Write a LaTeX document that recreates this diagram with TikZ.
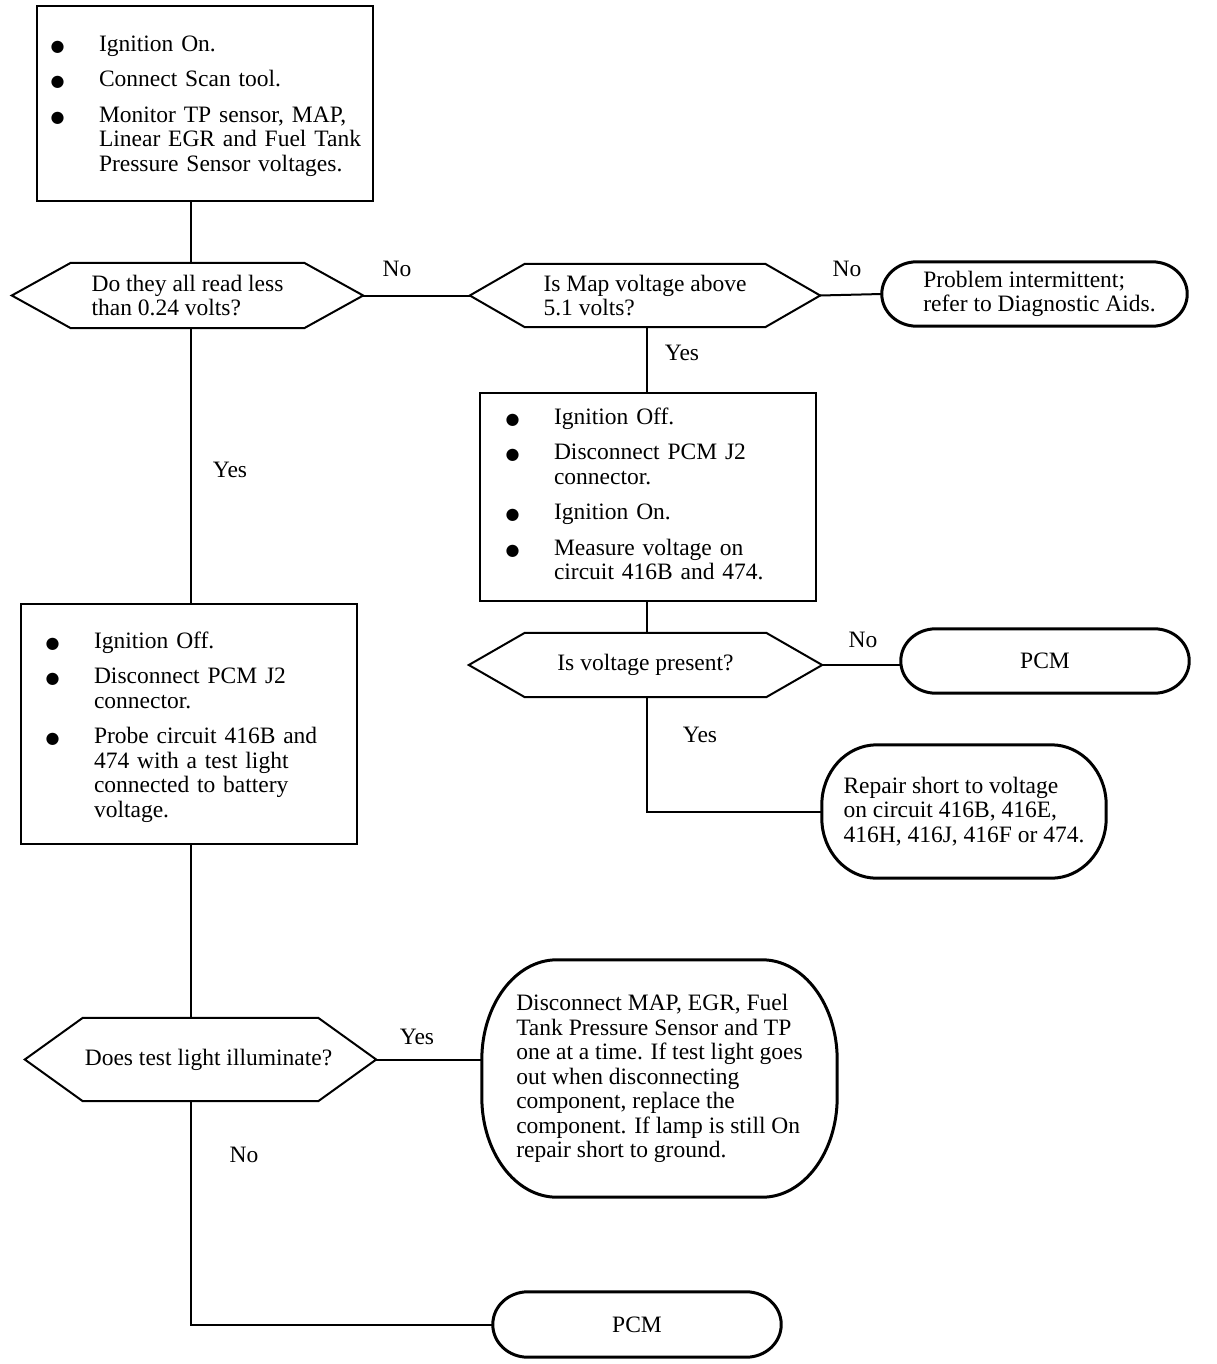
\documentclass[tikz,border=0pt]{standalone}
\usepackage{fontspec}
\setmainfont{Liberation Serif}
\newfontfamily\symfont{DejaVu Sans}
\usetikzlibrary{calc}
\newcommand\bul{\makebox[48.5pt][l]{\symfont\fontsize{16}{16}\selectfont ●}}
\newcommand\hexa[2]{\draw[shapeline] ([xshift=#2pt]#1.north west) -- ([xshift=-#2pt]#1.north east) -- (#1.east) -- ([xshift=-#2pt]#1.south east) -- ([xshift=#2pt]#1.south west) -- (#1.west) -- cycle;}
\newcommand\roundish[3]{\draw[ovalline] ([xshift=#2pt]#1.north west) -- ([xshift=-#2pt]#1.north east)
   arc[start angle=90, end angle=0, x radius=#2pt, y radius=#3pt]
   -- ([yshift=#3pt]#1.south east)
   arc[start angle=0, end angle=-90, x radius=#2pt, y radius=#3pt]
   -- ([xshift=#2pt]#1.south west)
   arc[start angle=270, end angle=180, x radius=#2pt, y radius=#3pt]
   -- ([yshift=-#3pt]#1.north west)
   arc[start angle=180, end angle=90, x radius=#2pt, y radius=#3pt] -- cycle;}
\begin{document}
\begin{tikzpicture}[x=1pt,y=-1pt,
  txt/.style={font=\fontsize{23.5}{24.5}\selectfont, inner sep=0pt},
  box/.style={txt, draw, line width=2pt, anchor=north west, align=left, inner ysep=0pt},
  shapeline/.style={line width=2pt, line join=miter},
  ovalline/.style={line width=3pt},
  conn/.style={line width=2pt},
  lab/.style={txt}]
\useasboundingbox[fill=white] (0,0) rectangle (1216,1364);

% boxes
\node[box, text width=309pt, inner xsep=13.5pt, minimum height=195pt] (b1) at (36,5)
 {\noindent\raisebox{-3pt}[\height][\depth]{\begin{tabular}{@{}l@{}l@{}}
 \bul & Ignition On.\\[11pt]
 \bul & Connect Scan tool.\\[11pt]
 \bul & Monitor TP sensor, MAP,\\
      & Linear EGR and Fuel Tank\\
      & Pressure Sensor voltages.
 \end{tabular}}};
\node[box, text width=285pt, inner xsep=25.5pt, minimum height=208pt] (b2) at (479,392)
 {\noindent\begin{tabular}{@{}l@{}l@{}}
 \bul & Ignition Off.\\[11pt]
 \bul & Disconnect PCM J2\\
      & connector.\\[11pt]
 \bul & Ignition On.\\[11pt]
 \bul & Measure voltage on\\
      & circuit 416B and 474.
 \end{tabular}};
\node[box, text width=287pt, inner xsep=24.5pt, minimum height=240pt] (b3) at (20,603)
 {\noindent\raisebox{-4pt}[\height][\depth]{\begin{tabular}{@{}l@{}l@{}}
 \bul & Ignition Off.\\[11pt]
 \bul & Disconnect PCM J2\\
      & connector.\\[11pt]
 \bul & Probe circuit 416B and\\
      & 474 with a test light\\
      & connected to battery\\
      & voltage.
 \end{tabular}}};

% decisions
\node[txt, minimum width=351pt, minimum height=65pt, align=left] (h1) at (187.5,295.5) {Do they all read less\\than 0.24 volts?};
\hexa{h1}{59}
\node[txt, minimum width=350pt, minimum height=63pt, align=left] (h2) at (645,295.5) {Is Map voltage above\\5.1 volts?};
\hexa{h2}{55}
\node[txt, minimum width=353pt, minimum height=64pt] (h3) at (645.5,665) {Is voltage present?};
\hexa{h3}{56}
\node[txt, minimum width=351pt, minimum height=83pt] (h4) at (200.5,1059.5) {\hspace*{16pt}Does test light illuminate?};
\hexa{h4}{58}

% terminals
\node[txt, minimum width=305pt, minimum height=64pt, align=left] (pi) at (1034.5,294) {\hspace*{10pt}Problem intermittent;\\\hspace*{10pt}refer to Diagnostic Aids.};
\roundish{pi}{35}{32}
\node[txt, minimum width=288pt, minimum height=64pt] (pcm1) at (1045,661) {PCM};
\roundish{pcm1}{35}{32}
\node[txt, minimum width=284pt, minimum height=133pt, align=left] (rep) at (964,811.5) {Repair short to voltage\\on circuit 416B, 416E,\\416H, 416J, 416F or 474.};
\roundish{rep}{55}{60}
\node[txt, minimum width=355pt, minimum height=237pt, align=left] (big) at (659.5,1078.5) {Disconnect MAP, EGR, Fuel\\Tank Pressure Sensor and TP\\one at a time. If test light goes\\out when disconnecting\\component, replace the\\component. If lamp is still On\\repair short to ground.};
\roundish{big}{75}{100}
\node[txt, minimum width=288pt, minimum height=65pt] (pcm2) at (637,1324.5) {PCM};
\roundish{pcm2}{35}{32.5}

% connectors
\coordinate (sl) at (191,0);
\coordinate (sr) at (647,0);
\draw[conn] (b1.south -| sl) -- (h1.north -| sl);
\draw[conn] (h1.east) -- (h2.west);
\draw[conn] (h2.east) -- (pi.west);
\draw[conn] (h2.south -| sr) -- (b2.north -| sr);
\draw[conn] (h1.south -| sl) -- (b3.north -| sl);
\draw[conn] (b2.south -| sr) -- (h3.north -| sr);
\draw[conn] (h3.east) -- (h3.east -| pcm1.west);
\draw[conn] (h3.south -| sr) |- (rep.west);
\draw[conn] (b3.south -| sl) -- (h4.north -| sl);
\draw[conn] (h4.east) -- (h4.east -| big.west);
\draw[conn] (h4.south -| sl) |- (pcm2.west);

% labels
\node[lab] (l1) at (397,269) {No};
\node[lab] (l2) at (847,269) {No};
\node[lab] (l3) at (682,353) {Yes};
\node[lab] (l4) at (230,470) {Yes};
\node[lab] (l5) at (863,640) {No};
\node[lab] (l6) at (700,735) {Yes};
\node[lab] (l7) at (417,1037) {Yes};
\node[lab] (l8) at (244,1155) {No};
\end{tikzpicture}
\end{document}
